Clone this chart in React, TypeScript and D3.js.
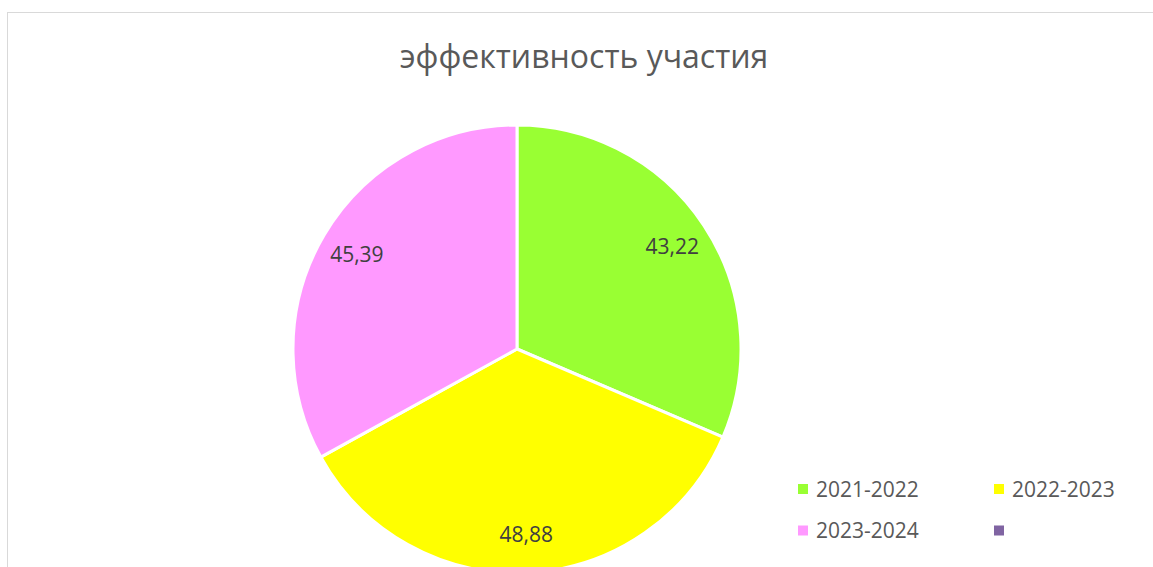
import React from "react";
import * as d3 from "d3";

const categories = ["2021-2022", "2022-2023", "2023-2024", ""];
const values = [43.22, 48.88, 45.39, 0];
const labels = ["43,22", "48,88", "45,39", ""];
const colors = ["#99FF33", "#FFFF00", "#FF99FF", "#8064A2"];
const title = "эффективность участия";

export default function App() {
  const W = 1153, H = 567;
  const cx = 517, cy = 349, r = 224;
  const pie = d3.pie<number>().sort(null).value((d) => d)(values);
  const arc = d3.arc<d3.PieArcDatum<number>>().innerRadius(0).outerRadius(r);
  const labelArc = d3.arc<d3.PieArcDatum<number>>().innerRadius(186).outerRadius(186);
  const font = "'Open Sans', 'Noto Sans', sans-serif";
  const legendPos = [
    { x: 798, y: 489 },
    { x: 994, y: 489 },
    { x: 798, y: 530.5 },
    { x: 994, y: 530.5 },
  ];
  return (
    <svg width={W} height={H} style={{ position: "fixed", left: 0, top: 0, background: "#fff" }}>
      <rect x={7.5} y={12.5} width={W + 10} height={H + 10} fill="#fff" stroke="#d9d9d9" strokeWidth={1} />
      <text x={584} y={68} textAnchor="middle" fontFamily={font} fontSize={32} fill="#595959">
        {title}
      </text>
      <g transform={`translate(${cx},${cy})`}>
        {pie.map((p, i) =>
          p.value > 0 ? (
            <path key={i} d={arc(p) || ""} fill={colors[i]} stroke="#fff" strokeWidth={3} strokeLinejoin="round" />
          ) : null
        )}
        {pie.map((p, i) => {
          if (p.value <= 0) return null;
          const [lx, ly] = labelArc.centroid(p);
          return (
            <text key={"l" + i} x={lx} y={ly} dy="0.36em" textAnchor="middle" fontFamily={font} fontSize={21} fill="#404040">
              {labels[i]}
            </text>
          );
        })}
      </g>
      {categories.map((c, i) => (
        <g key={"lg" + i} transform={`translate(${legendPos[i].x},${legendPos[i].y})`}>
          <rect x={0} y={-5} width={10} height={10} fill={colors[i]} />
          <text x={18} y={0} dy="0.36em" fontFamily={font} fontSize={21} fill="#595959">
            {c}
          </text>
        </g>
      ))}
    </svg>
  );
}
